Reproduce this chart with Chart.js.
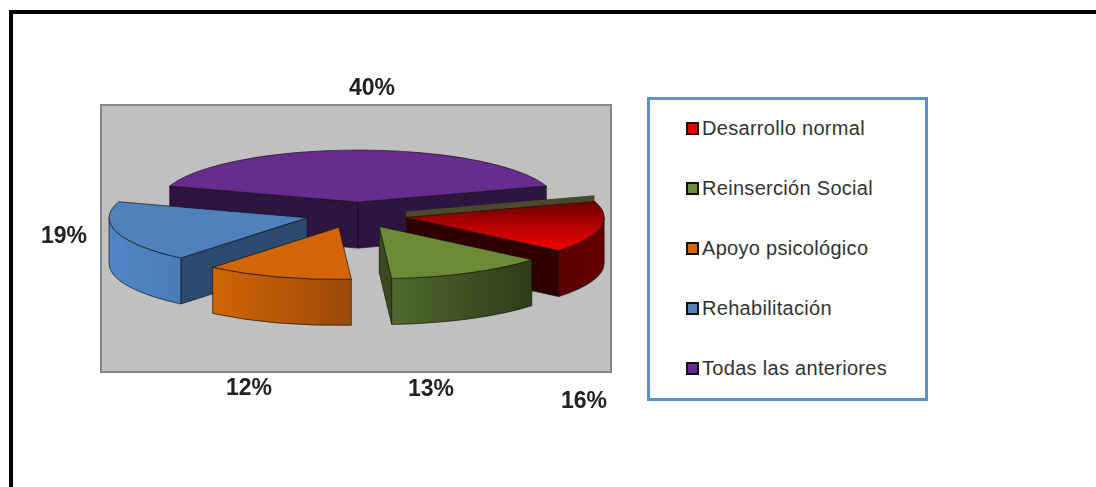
<!DOCTYPE html>
<html lang="es">

<head>
  <meta charset="UTF-8">
  <title>Grafico</title>
  <style>
    body { margin: 0; background: #fff; overflow: hidden; }
    div, canvas { position: absolute; box-sizing: border-box; }
    #marco { left: 9px; top: 10px; width: 1087px; height: 477px; border-top: 4px solid #000; border-left: 4px solid #000; }
    #fondo { left: 100px; top: 104px; width: 512px; height: 269px; background: #c0c0c0; border: 2px solid #868686; }
    #leyenda { left: 647px; top: 97px; width: 281px; height: 304px; background: #fff; border: 3px solid #5f8fc9; }
    .item { position: absolute; left: 36px; height: 60px; color: #333; white-space: nowrap; letter-spacing: 0.3px;
      font: 20px/56px "Liberation Sans", Arial, sans-serif; padding-left: 16px; }
    .item i { position: absolute; left: 0; top: 22px; width: 13px; height: 13px; box-sizing: border-box; border: 2px solid #111; }
    #grafico { left: 0; top: 0; }
  </style>
</head>

<body>
  <div id="marco"></div>
  <div id="fondo"></div>
  <div id="leyenda"></div>
  <canvas id="grafico" width="1096" height="487"></canvas>

  <script src="https://cdn.jsdelivr.net/npm/chart.js"></script>

  <script>
    const categories = ["Desarrollo normal", "Reinserción Social", "Apoyo psicológico", "Rehabilitación", "Todas las anteriores"]
    const values = [16, 13, 12, 19, 40]

    const topColors = ["#e00000", "#6d8b35", "#d46506", "#4f81bd", "#682b90"]
    const cutColors = ["#2e0000", "#3a4a1e", "#8a4a08", "#2c4a70", "#2e1440"]
    const wallColors = [["#5a0000", "#660000"], ["#50692e", "#2e3c18"], ["#d26505", "#9a4a08"], ["#4f86c6", "#4a7cb8"], ["#2e1440", "#2e1440"]]

    // 3d look, the library only knows a flat pie
    const squash = 0.263
    const depth = 46
    const explode = [49, 49, 49, 52, 49]
    const nudgeX = [1, 0, -3, 0, 1]
    const nudgeY = [0, 0, 0, -1, 0]
    const drawOrder = [4, 0, 3, 1, 2]
    const labelSpots = [[584, 402], [431, 390], [249, 389], [64, 237], [372, 89]]

    const leyenda = document.getElementById('leyenda')
    categories.forEach((nombre, i) => {
      const item = document.createElement('div')
      item.className = 'item'
      item.style.top = (i * 60) + 'px'
      item.innerHTML = '<i style="background:' + topColors[i] + '"></i>' + nombre
      leyenda.appendChild(item)
    })

    let dibujarPorcion = (ctx, arc, i) => {
      const mid = (arc.startAngle + arc.endAngle) / 2
      const cx = arc.x + Math.cos(mid) * explode[i] + nudgeX[i]
      const cy = arc.y + Math.sin(mid) * explode[i] * squash + nudgeY[i]
      const R = arc.outerRadius
      const r = R * squash
      const borde = 'rgba(20,20,20,0.85)'

      ctx.save()
      ctx.strokeStyle = borde
      ctx.lineWidth = 0.8

      // cut faces that look at the viewer
      const cara = (ang) => {
        const px = cx + Math.cos(ang) * R
        const py = cy + Math.sin(ang) * r
        ctx.beginPath()
        ctx.moveTo(cx, cy)
        ctx.lineTo(px, py)
        ctx.lineTo(px, py + depth)
        ctx.lineTo(cx, cy + depth)
        ctx.closePath()
        ctx.fillStyle = cutColors[i]
        ctx.fill()
        ctx.stroke()
      }
      if (Math.cos(arc.startAngle) < 0) cara(arc.startAngle)
      if (Math.cos(arc.endAngle) > 0) cara(arc.endAngle)

      // outer wall, only the front half of the ellipse shows
      const lo = Math.max(arc.startAngle, 0)
      const hi = Math.min(arc.endAngle, Math.PI)
      if (hi > lo) {
        const g = ctx.createLinearGradient(cx + Math.cos(hi) * R, 0, cx + Math.cos(lo) * R, 0)
        g.addColorStop(0, wallColors[i][0])
        g.addColorStop(1, wallColors[i][1])
        ctx.beginPath()
        ctx.ellipse(cx, cy, R, r, 0, lo, hi, false)
        ctx.ellipse(cx, cy + depth, R, r, 0, hi, lo, true)
        ctx.closePath()
        ctx.fillStyle = g
        ctx.fill()
        ctx.stroke()
      }

      // the odd dark strip behind the red slice
      if (i === 0) {
        const px = cx + Math.cos(arc.startAngle) * R
        const py = cy + Math.sin(arc.startAngle) * r
        ctx.beginPath()
        ctx.moveTo(cx, cy)
        ctx.lineTo(px, py)
        ctx.lineTo(px, py - 6)
        ctx.lineTo(cx, cy - 6)
        ctx.closePath()
        ctx.fillStyle = '#4a4a28'
        ctx.fill()
      }

      // top face, the arc element itself
      ctx.save()
      ctx.translate(cx, cy)
      ctx.scale(1, squash)
      ctx.translate(-arc.x, -arc.y)
      arc.draw(ctx)
      ctx.restore()

      ctx.beginPath()
      ctx.moveTo(cx, cy)
      ctx.ellipse(cx, cy, R, r, 0, arc.startAngle, arc.endAngle, false)
      ctx.closePath()
      if (i === 0) {
        const g = ctx.createLinearGradient(0, cy - 16, 0, cy + 32)
        g.addColorStop(0, 'rgba(60,0,0,0.75)')
        g.addColorStop(1, 'rgba(255,0,0,0.6)')
        ctx.fillStyle = g
        ctx.fill()
      }
      ctx.stroke()
      ctx.restore()
    }

    const pastel3d = {
      id: 'pastel3d',
      beforeDatasetsDraw(chart) {
        const ctx = chart.ctx
        const arcs = chart.getDatasetMeta(0).data
        drawOrder.forEach(i => dibujarPorcion(ctx, arcs[i], i))

        ctx.save()
        ctx.font = 'bold 23px "Liberation Sans", Arial, sans-serif'
        ctx.fillStyle = '#222'
        ctx.textAlign = 'center'
        ctx.textBaseline = 'middle'
        values.forEach((v, i) => ctx.fillText(v + '%', labelSpots[i][0], labelSpots[i][1]))
        ctx.restore()
        return false
      }
    }

    new Chart(document.getElementById('grafico'), {
      type: 'pie',
      data: {
        labels: categories,
        datasets: [{
          data: values,
          backgroundColor: topColors,
          borderWidth: 0
        }]
      },
      options: {
        responsive: false,
        animation: false,
        rotation: 72,
        radius: 198,
        layout: { padding: { right: 382, bottom: 57 } },
        plugins: {
          legend: { display: false },
          tooltip: { enabled: false }
        }
      },
      plugins: [pastel3d]
    })
  </script>
</body>

</html>
